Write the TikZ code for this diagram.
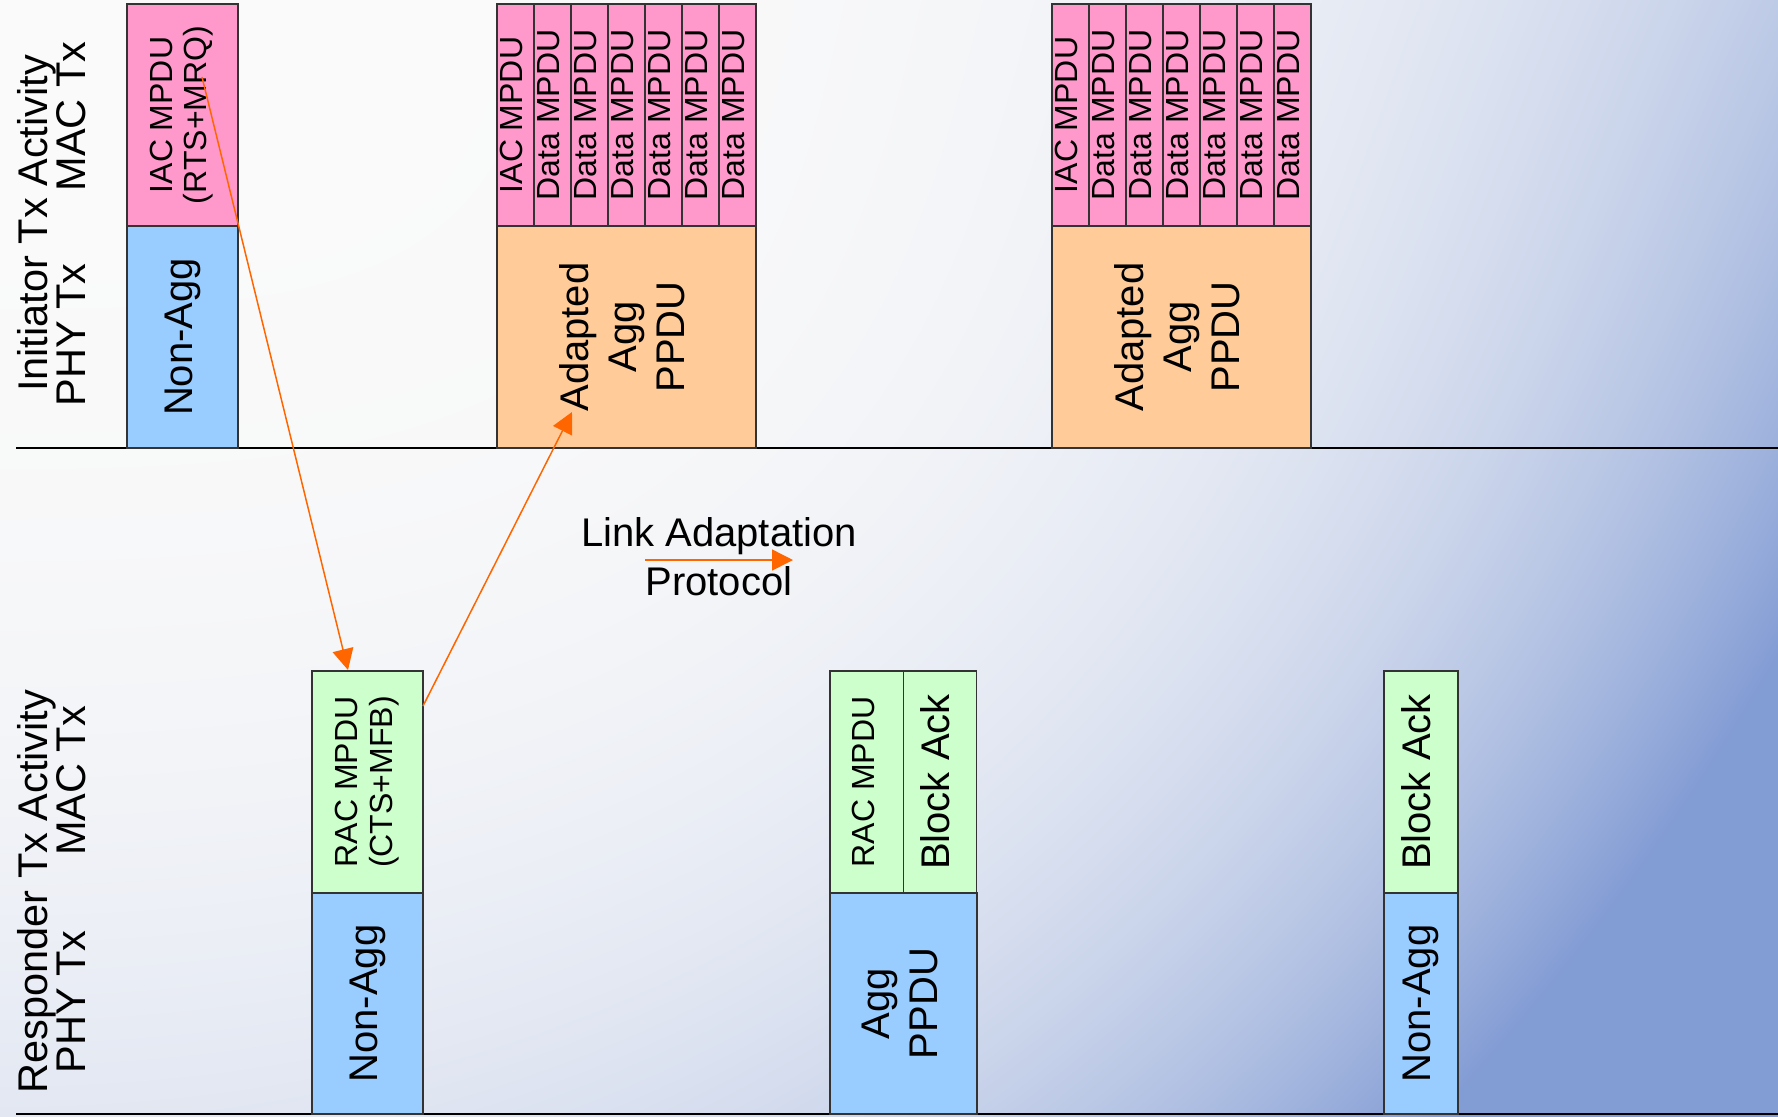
\documentclass[tikz,border=0pt]{standalone}
\usepackage{fontspec}
\setmainfont{Liberation Sans}
\usepackage{graphicx}
\usetikzlibrary{arrows.meta,calc}

\definecolor{pinkc}{HTML}{FF99CC}
\definecolor{bluec}{HTML}{99CCFF}
\definecolor{orangec}{HTML}{FFCC99}
\definecolor{greenc}{HTML}{CCFFCC}
\definecolor{edgec}{HTML}{333333}
\definecolor{arrowc}{HTML}{FF6600}

\pgfdeclarefunctionalshading{bgshade}{\pgfpoint{0bp}{0bp}}{\pgfpoint{100bp}{100bp}}{}{%
 75 exch sub 50 div
 exch 25 sub 50 div
 dup mul
 1 index dup dup mul mul
 1 index 1 index mul 0.5 mul
 1 index 0.2 mul add
 2 index dup mul
 4 index 0.6 mul 0.5 add mul
 add
 dup 1 sub abs neg add 1 add 0.5 mul
 dup abs add 0.5 mul
 4 1 roll pop pop pop
 dup 0.47 mul 0.98 exch sub
 1 index 0.37 mul 0.98 exch sub
 2 index 0.15 mul 0.98 exch sub
 4 -1 roll pop
}

\newcommand\vtxt[3]{\rotatebox{90}{\fontsize{#1}{#2}\selectfont\begin{tabular}{@{}c@{}}#3\end{tabular}}}

\begin{document}
\begin{tikzpicture}[x=0.5pt,y=-0.5pt,
  box/.style={draw=edgec, line width=0.65pt, inner sep=0pt, outer sep=0pt, anchor=center},
  rowlbl/.style={rotate=90, anchor=base, inner sep=0pt, font=\fontsize{20.75}{24}\selectfont},
  rule/.style={draw=black, line width=0.8pt},
  sig/.style={draw=arrowc, line width=0.75pt, -{Triangle[length=10.5pt,width=10.5pt]}}
]
\useasboundingbox (0,0) rectangle (1778,1116);
\shade[shading=bgshade] (0,0) rectangle (1778,1116);

% separators
\draw[rule] (16,448) -- (1778,448);
\draw[rule] (16,1114) -- (1778,1114);

% row labels
\node[rowlbl] (lblI) at (47,223.5) {Initiator Tx Activity};
\node[rowlbl] (lblImac) at (85,116.5) {MAC Tx};
\node[rowlbl] (lblIphy) at (85,335) {PHY Tx};
\node[rowlbl] (lblR) at (47,891.5) {Responder Tx Activity};
\node[rowlbl] (lblRmac) at (85,781) {MAC Tx};
\node[rowlbl] (lblRphy) at (85,1002) {PHY Tx};

% Initiator box A
\node[box, fill=pinkc, minimum width=55.5pt, minimum height=111pt] (iacA) at (182.5,115) {\vtxt{16}{17.5}{IAC MPDU\\(RTS+MRQ)}};
\node[box, fill=bluec, minimum width=55.5pt, minimum height=111pt] (phyA) at (182.5,337) {\vtxt{20}{24}{Non-Agg}};

% Initiator box B
\node[box, fill=pinkc, minimum width=18.5pt, minimum height=111pt] (b1) at (515.5,115) {\vtxt{16}{17.5}{IAC MPDU}};
\node[box, fill=pinkc, minimum width=18.5pt, minimum height=111pt] (b2) at (552.5,115) {\vtxt{16}{17.5}{Data MPDU}};
\node[box, fill=pinkc, minimum width=18.5pt, minimum height=111pt] (b3) at (589.5,115) {\vtxt{16}{17.5}{Data MPDU}};
\node[box, fill=pinkc, minimum width=18.5pt, minimum height=111pt] (b4) at (626.5,115) {\vtxt{16}{17.5}{Data MPDU}};
\node[box, fill=pinkc, minimum width=18.5pt, minimum height=111pt] (b5) at (663.5,115) {\vtxt{16}{17.5}{Data MPDU}};
\node[box, fill=pinkc, minimum width=18.5pt, minimum height=111pt] (b6) at (700.5,115) {\vtxt{16}{17.5}{Data MPDU}};
\node[box, fill=pinkc, minimum width=18.5pt, minimum height=111pt] (b7) at (737.5,115) {\vtxt{16}{17.5}{Data MPDU}};
\node[box, fill=orangec, minimum width=129.5pt, minimum height=111pt] (ppduB) at (626.5,337) {\vtxt{20}{24}{Adapted\\Agg\\PPDU}};

% Initiator box C
\node[box, fill=pinkc, minimum width=18.5pt, minimum height=111pt] (c1) at (1070.5,115) {\vtxt{16}{17.5}{IAC MPDU}};
\node[box, fill=pinkc, minimum width=18.5pt, minimum height=111pt] (c2) at (1107.5,115) {\vtxt{16}{17.5}{Data MPDU}};
\node[box, fill=pinkc, minimum width=18.5pt, minimum height=111pt] (c3) at (1144.5,115) {\vtxt{16}{17.5}{Data MPDU}};
\node[box, fill=pinkc, minimum width=18.5pt, minimum height=111pt] (c4) at (1181.5,115) {\vtxt{16}{17.5}{Data MPDU}};
\node[box, fill=pinkc, minimum width=18.5pt, minimum height=111pt] (c5) at (1218.5,115) {\vtxt{16}{17.5}{Data MPDU}};
\node[box, fill=pinkc, minimum width=18.5pt, minimum height=111pt] (c6) at (1255.5,115) {\vtxt{16}{17.5}{Data MPDU}};
\node[box, fill=pinkc, minimum width=18.5pt, minimum height=111pt] (c7) at (1292.5,115) {\vtxt{16}{17.5}{Data MPDU}};
\node[box, fill=orangec, minimum width=129.5pt, minimum height=111pt] (ppduC) at (1181.5,337) {\vtxt{20}{24}{Adapted\\Agg\\PPDU}};

% Responder box D
\node[box, fill=greenc, minimum width=55.5pt, minimum height=111pt] (racD) at (367.5,782) {\vtxt{16}{17.5}{RAC MPDU\\(CTS+MFB)}};
\node[box, fill=bluec, minimum width=55.5pt, minimum height=110.5pt] (phyD) at (367.5,1003.5) {\vtxt{20}{24}{Non-Agg}};

% Responder box E
\node[box, fill=greenc, minimum width=37pt, minimum height=111pt] (racE) at (867,782) {\vtxt{16}{17.5}{RAC MPDU}};
\node[box, fill=greenc, minimum width=36.5pt, minimum height=111pt] (baE) at (940.25,782) {\vtxt{20}{24}{Block Ack}};
\node[box, fill=bluec, minimum width=73.5pt, minimum height=110.5pt] (phyE) at (903.5,1003.5) {\vtxt{20}{24}{Agg\\PPDU}};

% Responder box F
\node[box, fill=greenc, minimum width=37pt, minimum height=111pt] (baF) at (1421,782) {\vtxt{20}{24}{Block Ack}};
\node[box, fill=bluec, minimum width=37pt, minimum height=110.5pt] (phyF) at (1421,1003.5) {\vtxt{20}{24}{Non-Agg}};

% Link adaptation label
\node[align=center, inner sep=0pt, font=\fontsize{20}{24.5}\selectfont] (lap) at (719,557) {Link Adaptation\\Protocol};
\coordinate (la1) at (645,560);
\coordinate (la2) at (793,560);

% connectors
\draw[sig] ($(iacA.center)+(19.5,-38)$) -- ($(racD.north)+(-19.5,-1)$);
\draw[sig] ($(racD.north east)+(0,35)$) -- ($(ppduB.south west)+(75,-36)$);
\draw[sig] (la1) -- (la2);
\end{tikzpicture}
\end{document}
